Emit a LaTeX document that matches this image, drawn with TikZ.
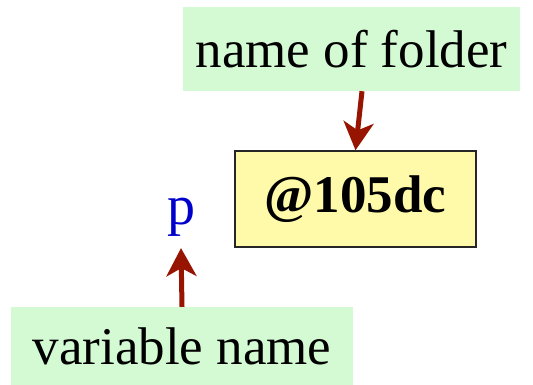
\documentclass[tikz,border=0pt]{standalone}
\usepackage{fontspec}
\setmainfont{Liberation Serif}
\usetikzlibrary{arrows.meta}
\definecolor{notegreen}{RGB}{212,250,212}
\definecolor{boxyellow}{RGB}{255,250,170}
\definecolor{arrowred}{RGB}{150,20,0}
\definecolor{varblue}{RGB}{0,0,204}
\tikzset{
  note/.style={fill=notegreen, inner sep=0pt, font=\fontsize{53}{60}\selectfont},
  folderbox/.style={fill=boxyellow, draw=black!85, line width=1.5pt, inner sep=0pt,
    font=\fontsize{53}{60}\selectfont\bfseries},
  pointer/.style={draw=arrowred, line width=5pt,
    -{Stealth[length=28pt,width=30pt,inset=8pt]}}
}
\begin{document}
\begin{tikzpicture}[x=1pt,y=-1pt]
  \useasboundingbox (0,0) rectangle (533,385);
  % labels and the folder box
  \node[note, minimum width=337pt, minimum height=84pt] (folder) at (351.5,49) {name of folder};
  \node[folderbox, minimum width=241pt, minimum height=96pt] (addr) at (355.5,199) {@105dc};
  \node[text=varblue, inner sep=0pt, font=\fontsize{56}{60}\selectfont, anchor=base] (p) at (181,224) {p};
  \node[note, minimum width=342pt, minimum height=78pt] (varname) at (182,346) {variable name};
  % pointers
  \draw[pointer] ([xshift=10.5pt]folder.south) -- (addr.north);
  \draw[pointer] (varname.north) -- ([yshift=-12pt]p.south);
\end{tikzpicture}
\end{document}
